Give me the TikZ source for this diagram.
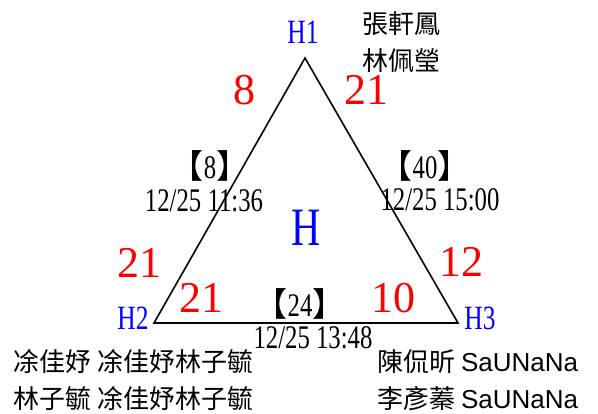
\documentclass[tikz,border=0pt]{standalone}
\usepackage{fontspec}
\setmainfont{Liberation Serif}
\newfontfamily\cjk{Noto Sans CJK TC}
\newfontfamily\narrow[FakeStretch=0.75]{Liberation Serif}
\newfontfamily\arial{Liberation Sans}
\usetikzlibrary{positioning}
\definecolor{vtxblue}{HTML}{0000FF}
\definecolor{cntred}{HTML}{FF0000}
\tikzset{edge/.style={line width=1.6pt,line join=miter},vtx/.style={text=vtxblue,font=\narrow\fontsize{34}{36}\selectfont,inner sep=0pt},cnt/.style={text=cntred,font=\fontsize{44}{48}\selectfont,inner sep=0pt},stamp/.style={font=\narrow\fontsize{33}{36}\selectfont,inner sep=0pt},names/.style={font=\cjk\fontsize{26}{37}\selectfont,align=left,inner sep=0pt}}

\begin{document}
\begin{tikzpicture}[x=1pt,y=-1pt]
\useasboundingbox (0,0) rectangle (598,414);
\coordinate (h1) at (305,58);
\coordinate (h2) at (154,323);
\coordinate (h3) at (458,323);
\draw[edge] (h1) -- (h2) -- (h3) -- cycle;
% vertex labels
\node[vtx] (lab1) at (303,32) {H1};
\node[vtx] (lab2) at (133,318) {H2};
\node[vtx] (lab3) at (480,318) {H3};
\node[vtx,font=\narrow\fontsize{54}{58}\selectfont] (hub) at (306,228) {H};
% counts
\node[cnt] (c12) at (244,90) {8};
\node[cnt] (c13) at (366,90) {21};
\node[cnt] (c21) at (139,263) {21};
\node[cnt] (c31) at (461,262) {12};
\node[cnt] (c23) at (201,298) {21};
\node[cnt] (c32) at (393,298) {10};
% edge stamps
\node[stamp] (w12) at (210,166) {{\cjk 【}8{\cjk 】}};
\node[stamp] (t12) at (204,201) {12/25 11:36};
\node[stamp] (w13) at (425,166) {{\cjk 【}40{\cjk 】}};
\node[stamp] (t13) at (440,200) {12/25 15:00};
\node[stamp] (w23) at (300,304) {{\cjk 【}24{\cjk 】}};
\node[stamp] (t23) at (313,338) {12/25 13:48};
% members
\node[names,align=center] (m1) at (401,42) {張軒鳳\\林佩瑩};
\node[names,anchor=west] (m2) at (13,380) {凃佳妤 凃佳妤林子毓\\林子毓 凃佳妤林子毓};
\node[names,anchor=west] (m3) at (377,380) {陳侃昕 {\arial SaUNaNa}\\李彥蓁 {\arial SaUNaNa}};
\end{tikzpicture}
\end{document}
